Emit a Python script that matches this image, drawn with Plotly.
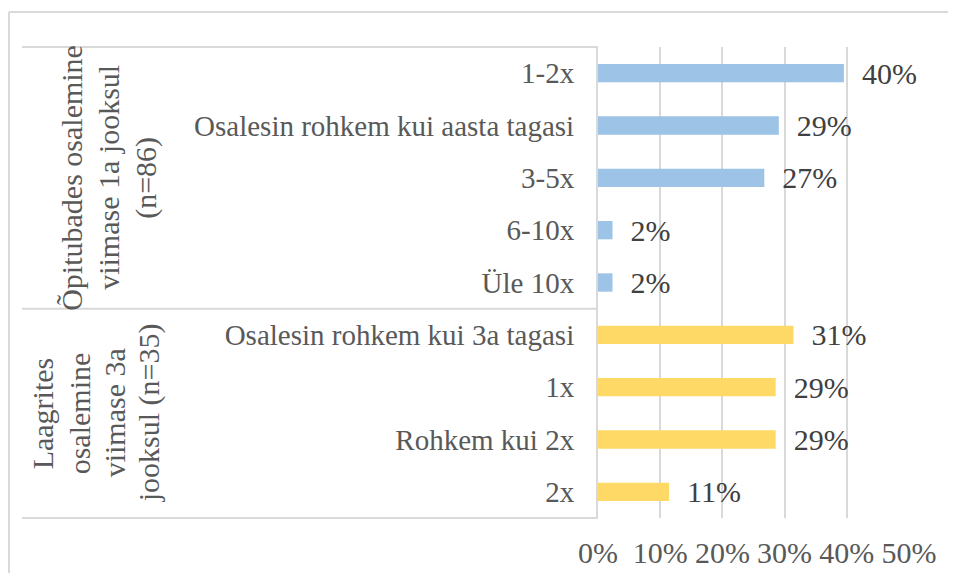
import plotly.graph_objects as go

# Data
group1_lines = ["Õpitubades osalemine", "viimase 1a jooksul", "(n=86)"]
group1_cats = ["1-2x", "Osalesin rohkem kui aasta tagasi", "3-5x", "6-10x", "Üle 10x"]
group1_vals = [39.53, 29.07, 26.74, 2.33, 2.33]

group2_lines = ["Laagrites", "osalemine", "viimase 3a", "jooksul (n=35)"]
group2_cats = ["Osalesin rohkem kui 3a tagasi", "1x", "Rohkem kui 2x", "2x"]
group2_vals = [31.43, 28.57, 28.57, 11.43]

x_tickvals = [0, 10, 20, 30, 40, 50]
x_ticktext = ["0%", "10%", "20%", "30%", "40%", "50%"]

FONT = "Liberation Serif, Times New Roman, serif"
TXT = "#595959"
LBL = "#404040"
GRID = "#D9D9D9"
FS = 30

fig = go.Figure()
for cats, vals, col in [(group1_cats, group1_vals, "#9DC3E6"),
                        (group2_cats, group2_vals, "#FFD966")]:
    fig.add_trace(go.Bar(
        y=cats, x=vals, orientation="h",
        marker=dict(color=col, line=dict(width=0)),
        texttemplate="\u00a0\u00a0%{x:.0f}%", textposition="outside",
        textfont=dict(family=FONT, size=FS, color=LBL),
        cliponaxis=False, constraintext="none", showlegend=False,
    ))

all_cats = group1_cats + group2_cats
n_all = len(all_cats)
n2 = len(group2_cats)

OFF = 8  # page body margin
W, H = 948, 565
L, T = 590, 39
R = W - (909 - OFF)
B = H - (518 - OFF)
pw, ph = W - L - R, H - T - B

def px_x(px):  # reference pixel -> paper x
    return (px - OFF - L) / pw

def px_y(py):  # reference pixel -> paper y
    return (H - B - (py - OFF)) / ph

shapes = [
    # outer frame (left and top edges), kept inside the figure
    dict(type="line", xref="paper", yref="paper",
         x0=px_x(9), x1=px_x(9), y0=px_y(12), y1=0 - B / ph,
         line=dict(color=GRID, width=2), layer="below"),
    dict(type="line", xref="paper", yref="paper",
         x0=px_x(9), x1=1 + R / pw, y0=px_y(12), y1=px_y(12),
         line=dict(color=GRID, width=2), layer="below"),
]
for yp in [1.0, n2 / n_all, 0.0]:
    shapes.append(dict(type="line", xref="paper", yref="paper",
                       x0=px_x(22), x1=0, y0=yp, y1=yp,
                       line=dict(color=GRID, width=2)))

annotations = []
for lines, xs, yc in [(group1_lines, [72, 109, 146], 1 - (len(group1_cats) / 2) / n_all),
                      (group2_lines, [42, 79, 114, 149], (n2 / 2) / n_all)]:
    for line, xp in zip(lines, xs):
        annotations.append(dict(
            text=line, xref="paper", yref="paper", x=px_x(xp), y=yc,
            textangle=-90, showarrow=False, xanchor="center", yanchor="middle",
            font=dict(family=FONT, size=FS, color=TXT)))

fig.update_layout(
    width=W, height=H,
    margin=dict(l=L, r=R, t=T, b=B, autoexpand=False),
    paper_bgcolor="white", plot_bgcolor="white",
    barmode="overlay", bargap=0.65,
    font=dict(family=FONT, size=FS, color=TXT),
    shapes=shapes, annotations=annotations,
    xaxis=dict(range=[0, 50], tickmode="array", tickvals=x_tickvals, ticktext=x_ticktext,
               showgrid=True, gridcolor=GRID, gridwidth=2,
               zeroline=False, showline=False, ticks="",
               ticklabelstandoff=14,
               tickfont=dict(family=FONT, size=FS, color=TXT)),
    yaxis=dict(categoryorder="array", categoryarray=all_cats,
               autorange="reversed", showgrid=False, zeroline=False,
               showline=True, linecolor=GRID, linewidth=2, ticks="",
               ticklabelstandoff=16,
               tickfont=dict(family=FONT, size=29, color=TXT)),
)

fig.write_html("out.html")
